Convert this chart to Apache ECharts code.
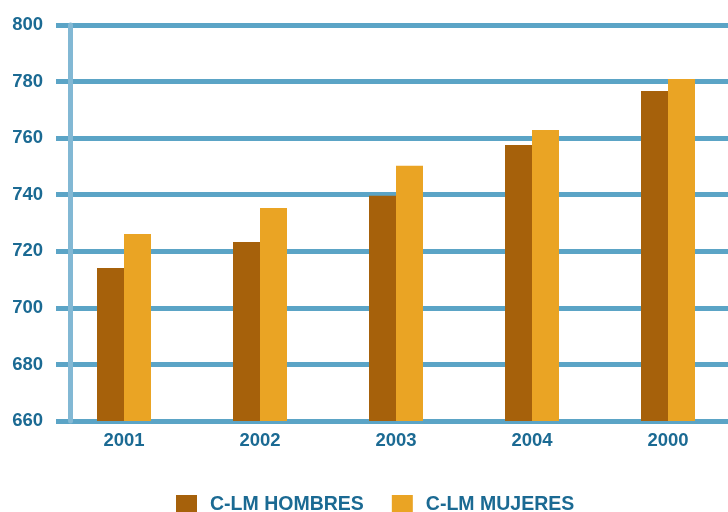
<!DOCTYPE html>
<html><head><meta charset="utf-8">
<script src="https://cdn.jsdelivr.net/npm/echarts@6/dist/echarts.min.js"></script>
<style>html,body{margin:0;padding:0;background:#fff;overflow:hidden;width:728px;height:512px}#c{width:736px;height:512px}</style>
</head><body><div id="c"></div>
<script>
const categories = ['2001','2002','2003','2004','2000'];
const hombres = [714.1, 723.3, 739.6, 757.6, 776.7];
const mujeres = [726.1, 735.3, 750.2, 762.9, 780.9];
const seriesNames = ['C-LM HOMBRES','C-LM MUJERES'];

const chart = echarts.init(document.getElementById('c'), null, {renderer:'canvas'});
const lab = {color:'#1b6a93', fontWeight:'bold', fontSize:18.5, fontFamily:'Liberation Sans, Arial, sans-serif'};
chart.setOption({
  animation:false,
  grid:{left:56, top:25, right:0, bottom:91},
  legend:{top:490, left:171, itemWidth:21, itemHeight:20, itemGap:28,
    textStyle:Object.assign({}, lab, {fontSize:19.5, padding:[0,0,0,8]}), icon:'rect',
    data:seriesNames},
  xAxis:{type:'category', data:categories,
    axisLine:{show:false}, axisTick:{show:false},
    axisLabel:Object.assign({margin:10}, lab)},
  yAxis:[{type:'value', min:660, max:800, interval:20,
    axisLine:{show:false}, axisTick:{show:false},
    axisLabel:Object.assign({margin:13}, lab),
    splitLine:{lineStyle:{color:'#5ba4c6', width:5}}},
   {type:'value', min:660, max:800, interval:20, position:'left', offset:-14,
    axisLine:{show:true, lineStyle:{color:'#82b8d4', width:5}}, axisTick:{show:false},
    axisLabel:{show:false}, splitLine:{show:false}}],
  series:[
    {name:seriesNames[0], type:'bar', data:hombres, barWidth:27, barGap:'0%', itemStyle:{color:'#a6610b'}},
    {name:seriesNames[1], type:'bar', data:mujeres, barWidth:27, barGap:'0%', itemStyle:{color:'#eaa424'}}
  ]
});
</script></body></html>
